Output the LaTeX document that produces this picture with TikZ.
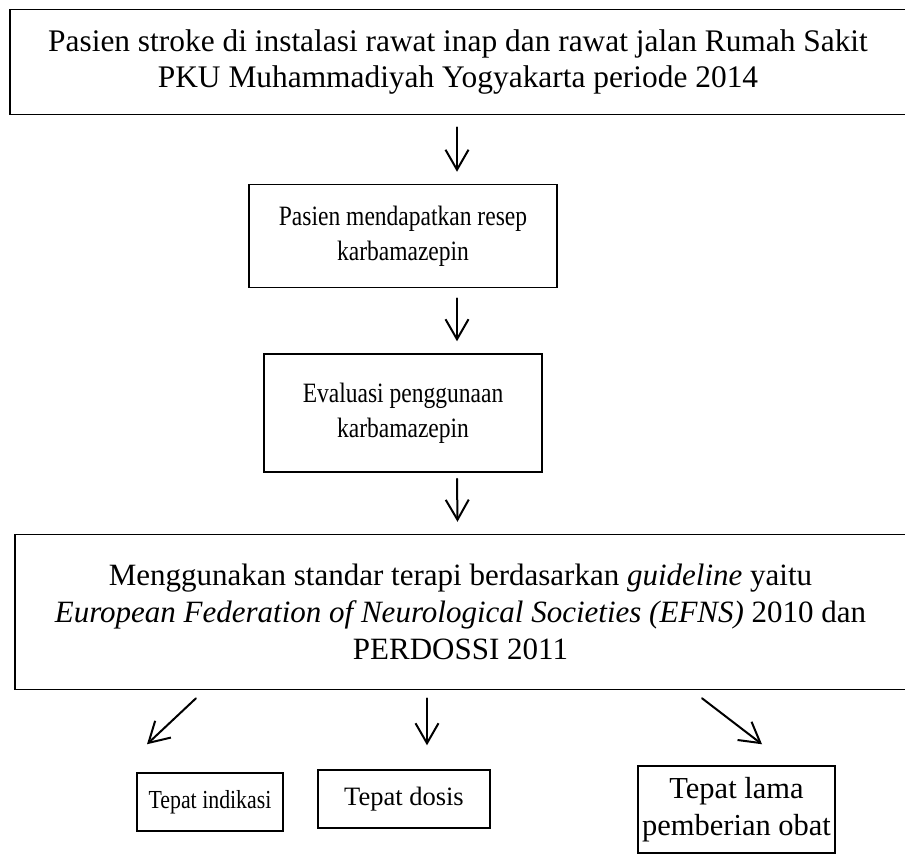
\documentclass[tikz,border=0pt]{standalone}
\usepackage{fontspec}
\setmainfont{Liberation Serif}
\newfontfamily\narrowserif[FakeStretch=0.84]{Liberation Serif}
\usetikzlibrary{arrows.meta,calc}

\begin{document}
\begin{tikzpicture}[x=1pt, y=-1pt,
    box/.style={draw, line width=1.5pt, align=center, inner sep=0pt, font=\fontsize{31.4}{36}\selectfont},
    smalltext/.style={font=\narrowserif\fontsize{28}{35}\selectfont},
    arr/.style={->, >={Straight Barb[length=20pt,width=23pt]}, line width=2pt, line cap=round}
]
    \useasboundingbox (0,0) rectangle (905,855);

    % Flow boxes
    \node[box, minimum width=896pt, minimum height=105pt] (pasien) at (458,62) {
        Pasien stroke di instalasi rawat inap dan rawat jalan Rumah Sakit\\
        PKU Muhammadiyah Yogyakarta periode 2014
    };
    \node[box, smalltext, minimum width=308pt, minimum height=103pt] (resep) at (403,236) {
        Pasien mendapatkan resep\\
        karbamazepin
    };
    \node[box, smalltext, minimum width=278pt, minimum height=118pt] (evaluasi) at (403,413) {
        Evaluasi penggunaan\\
        karbamazepin
    };
    \node[box, font=\fontsize{31}{37}\selectfont, minimum width=891pt, minimum height=155pt] (standar) at (460.5,612) {
        Menggunakan standar terapi berdasarkan \textit{guideline} yaitu\\
        \textit{European Federation of Neurological Societies (EFNS)} 2010 dan\\
        PERDOSSI 2011
    };

    % Outcomes
    \node[box, font=\narrowserif\fontsize{26}{35}\selectfont, minimum width=146pt, minimum height=58pt] (indikasi) at (210,802) {Tepat indikasi};
    \node[box, font=\fontsize{26.5}{35}\selectfont, minimum width=172pt, minimum height=58pt] (dosis) at (404,799) {Tepat dosis};
    \node[box, font=\fontsize{30.5}{37}\selectfont, minimum width=197pt, minimum height=87pt] (lama) at (736.5,809.5) {
        Tepat lama\\
        pemberian obat
    };

    % Arrows
    \draw[arr] ($(pasien.south)+(-1,12)$) -- ($(resep.north)+(54,-12)$);
    \draw[arr] ($(resep.south)+(54,10)$) -- ($(evaluasi.north)+(54,-12)$);
    \draw[arr] ($(evaluasi.south)+(54,6)$) -- ($(standar.north)+(-3,-12)$);
    \draw[arr] ($(standar.south)+(-264.5,8)$) -- ($(indikasi.north)+(-63,-28)$);
    \draw[arr] ($(standar.south)+(-33.5,8)$) -- ($(dosis.north)+(23,-24)$);
    \draw[arr] ($(standar.south)+(241.5,8)$) -- ($(lama.north)+(25.5,-21)$);
\end{tikzpicture}
\end{document}
